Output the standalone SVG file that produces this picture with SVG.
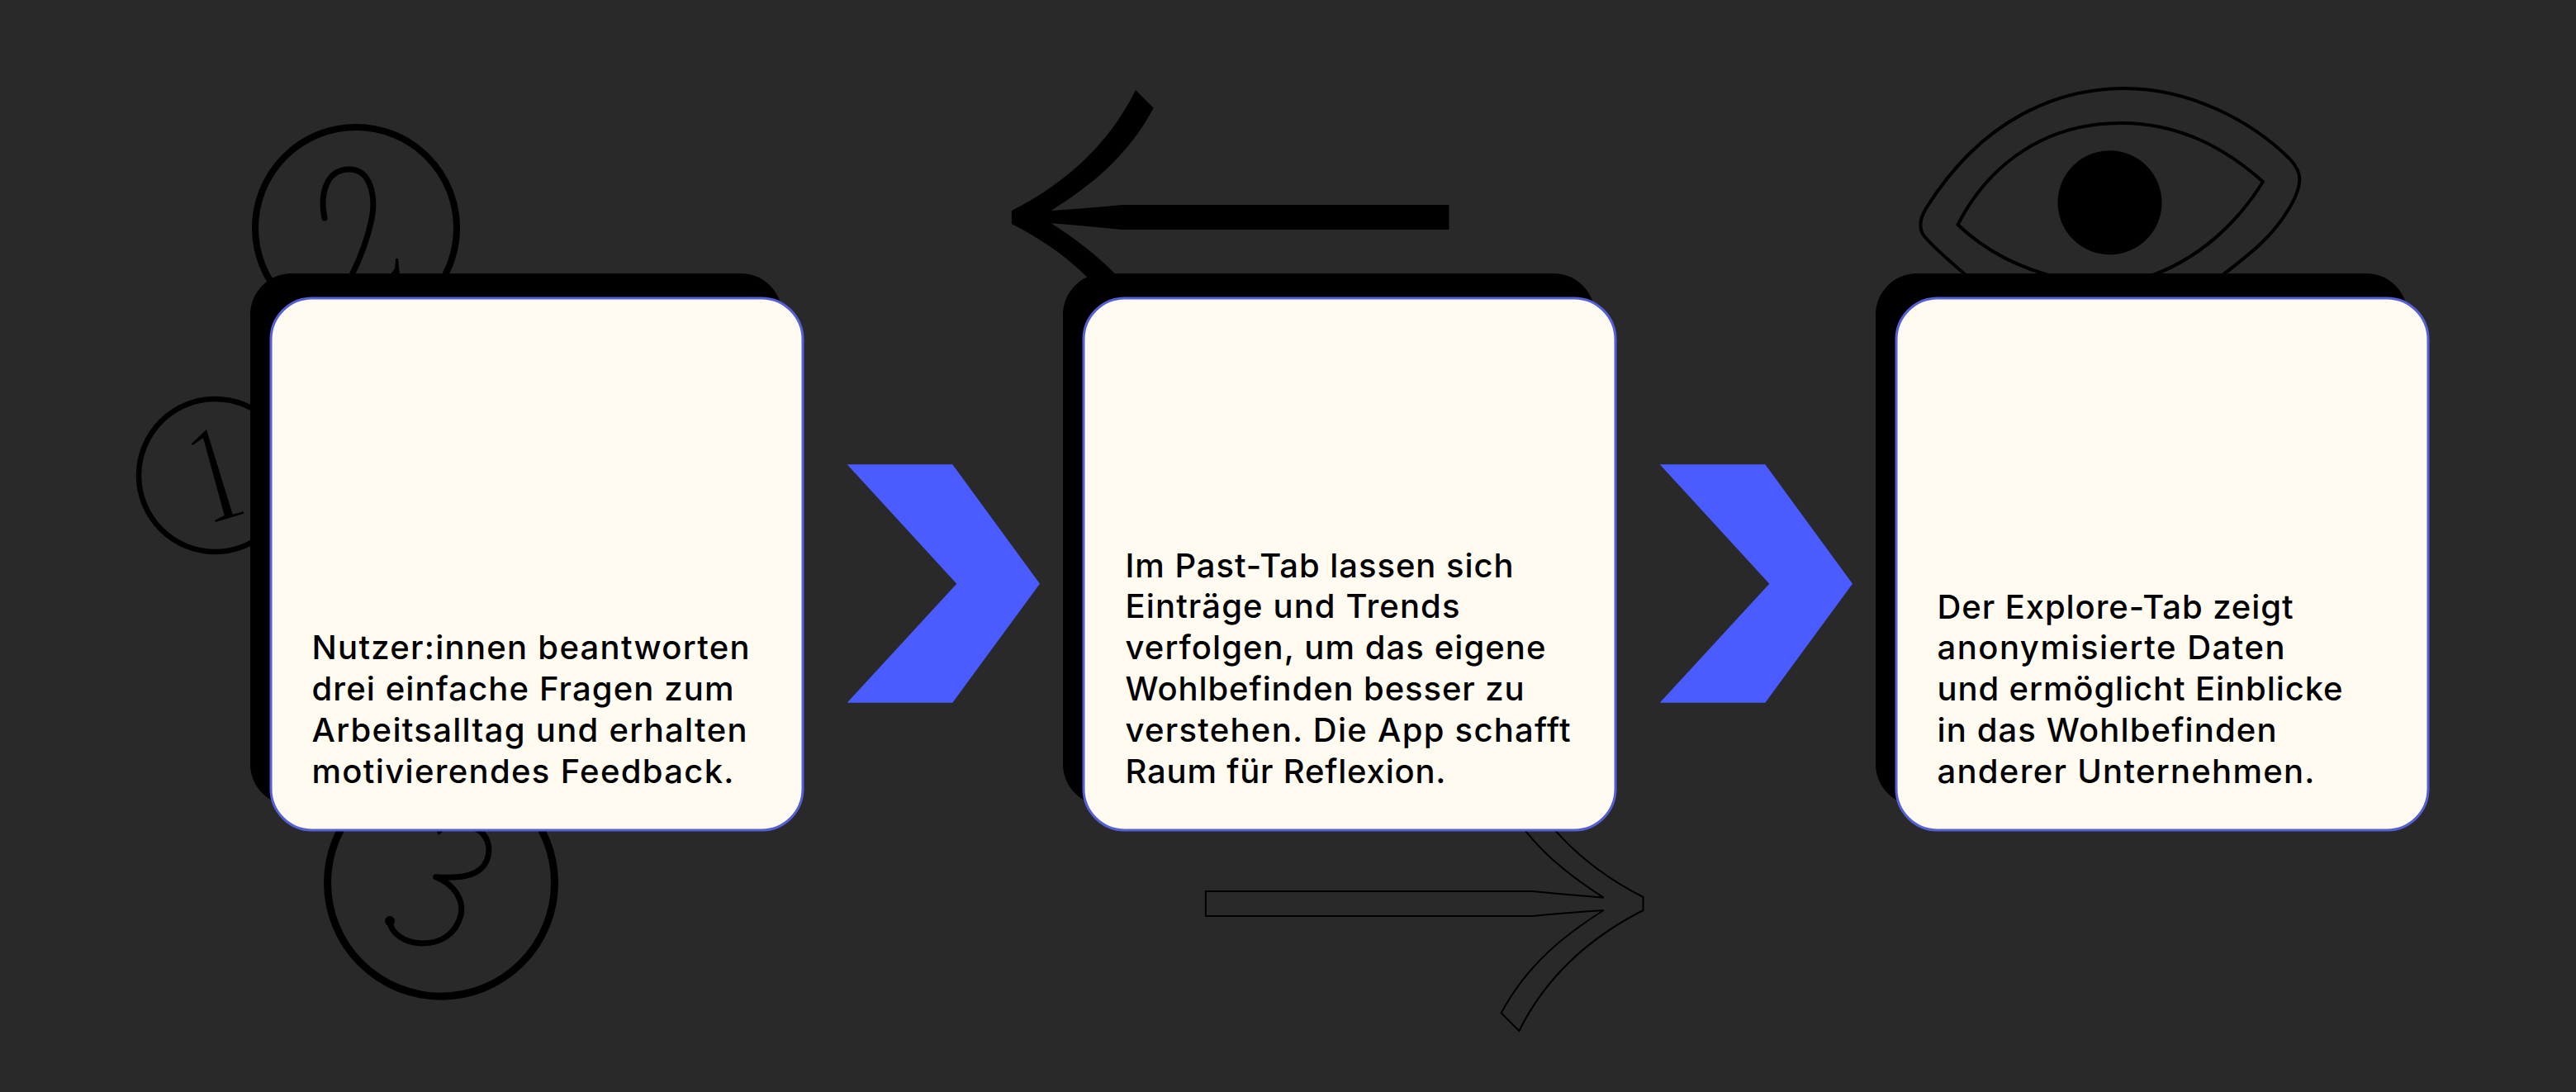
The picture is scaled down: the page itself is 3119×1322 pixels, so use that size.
<svg xmlns="http://www.w3.org/2000/svg" xmlns:xlink="http://www.w3.org/1999/xlink" width="3119" height="1322" viewBox="0 0 3119 1322">
<style>
.bg{fill:#292929}
.ink{fill:none;stroke:#000;stroke-linecap:round;stroke-linejoin:round}
.solid{fill:#000;stroke:none}
.outline{fill:none;stroke:#000;stroke-width:2}
.shadow{fill:#000}
.card{fill:#fffbf0;stroke:#5560d6;stroke-width:3}
.chev{fill:#4a5cff}
text{font-family:"Inter","Liberation Sans",sans-serif;font-size:40px;font-weight:500;fill:#000}
</style>
<defs>
<path id="arrow" d="M1224.9,255 C1270,232 1335,190 1375,109 L1396.7,130.7 C1365,190 1320,225 1272.7,255 Q1318,252 1358.8,248 L1754.5,248 L1754.5,278 L1358.8,278 Q1318,274 1272.7,270.3 C1320,301 1365,336 1396.7,395.3 L1375,417 C1335,336 1270,294 1224.9,271 Z"/>
<rect id="shadow" width="644" height="644" rx="50" ry="50"/>
<rect id="panel" width="644" height="644" rx="50" ry="50"/>
<polygon id="chevron" points="1025.7,562.3 1153.3,562.3 1259,706.7 1153.3,850.7 1025.7,850.7 1158.3,706.7"/>
</defs>
<rect class="bg" x="0" y="0" width="3119" height="1322"/>
<g id="icon-numbers">
<circle class="ink" cx="431" cy="276" r="122" stroke-width="8"/>
<path class="ink" stroke-width="7" d="M393,264 C388,240 392,205 423,205 C450,205 455,240 450,265 C445,290 435,315 425,335"/>
<polygon class="solid" points="479,313 482,313 484,333 472,333 478,325"/>
<circle class="ink" cx="260.5" cy="575.5" r="92.5" stroke-width="6.5"/>
<polygon class="solid" points="250,520 231.7,537.3 233.3,539 246,530 271.7,624 260,630 261,632 295.3,621.7 294.7,619.3 281.7,622.7"/>
<circle class="ink" cx="534" cy="1068.7" r="137.5" stroke-width="9"/>
<path class="ink" stroke-width="7" d="M576,1003 C590,1010 595,1025 590,1040 C583,1060 560,1064 527.5,1061.7 C550,1070 562,1090 558,1108 C552,1130 535,1142 512,1142 C490,1142 473,1130 472,1115"/>
<polygon class="solid" points="528,1005 538,1005 531,1011"/>
<circle class="solid" cx="472" cy="1115" r="6"/>
</g>
<g id="icon-arrow-back"><use xlink:href="#arrow" href="#arrow" class="solid"/></g>
<g id="icon-eye">
<path class="ink" stroke-width="4" d="M2385,337 C2365,320 2345,303 2333.5,290 C2329,285 2325.4,282 2325.4,272 C2325.4,265 2329,257 2333.5,250 C2400,145 2490,107 2572,107 C2650,107 2725,145 2773,193 C2782,203 2784.4,210 2784.4,217 C2784.4,228 2780,238 2773,250 C2750,290 2720,310 2686,337"/>
<path class="ink" stroke-width="4" d="M2495,337 C2445,325 2405,305 2370.5,272 C2410,195 2480,149 2568,149 C2640,149 2695,180 2740,220 C2712,265 2665,315 2595,337"/>
<circle class="solid" cx="2554.5" cy="245.3" r="63"/>
</g>
<g id="icon-arrow-forward"><use xlink:href="#arrow" href="#arrow" class="outline" transform="matrix(-1,0,0,-1,3214.4,1357)"/></g>
<g id="card-1">
<use xlink:href="#shadow" href="#shadow" class="shadow" x="303" y="331"/>
<use xlink:href="#panel" href="#panel" class="card" x="328" y="361"/>
<text x="377.5" y="798" textLength="530" lengthAdjust="spacing">Nutzer:innen beantworten</text>
<text x="377.5" y="848" textLength="511" lengthAdjust="spacing">drei einfache Fragen zum</text>
<text x="377.5" y="898" textLength="527" lengthAdjust="spacing">Arbeitsalltag und erhalten</text>
<text x="377.5" y="948" textLength="511" lengthAdjust="spacing">motivierendes Feedback.</text>
</g>
<g id="card-2">
<use xlink:href="#shadow" href="#shadow" class="shadow" x="1287" y="331"/>
<use xlink:href="#panel" href="#panel" class="card" x="1312" y="361"/>
<text x="1362.5" y="699" textLength="470" lengthAdjust="spacing">Im Past-Tab lassen sich</text>
<text x="1362.5" y="748" textLength="405" lengthAdjust="spacing">Einträge und Trends</text>
<text x="1362.5" y="798" textLength="509" lengthAdjust="spacing">verfolgen, um das eigene</text>
<text x="1362.5" y="848" textLength="483" lengthAdjust="spacing">Wohlbefinden besser zu</text>
<text x="1362.5" y="898" textLength="539" lengthAdjust="spacing">verstehen. Die App schafft</text>
<text x="1362.5" y="948" textLength="388" lengthAdjust="spacing">Raum für Reflexion.</text>
</g>
<g id="card-3">
<use xlink:href="#shadow" href="#shadow" class="shadow" x="2271" y="331"/>
<use xlink:href="#panel" href="#panel" class="card" x="2296" y="361"/>
<text x="2345.5" y="749" textLength="431" lengthAdjust="spacing">Der Explore-Tab zeigt</text>
<text x="2345.5" y="798" textLength="421" lengthAdjust="spacing">anonymisierte Daten</text>
<text x="2345.5" y="848" textLength="491" lengthAdjust="spacing">und ermöglicht Einblicke</text>
<text x="2345.5" y="898" textLength="411" lengthAdjust="spacing">in das Wohlbefinden</text>
<text x="2345.5" y="948" textLength="457" lengthAdjust="spacing">anderer Unternehmen.</text>
</g>
<g id="connectors">
<use xlink:href="#chevron" href="#chevron" class="chev"/>
<use xlink:href="#chevron" href="#chevron" class="chev" x="984"/>
</g>
</svg>
